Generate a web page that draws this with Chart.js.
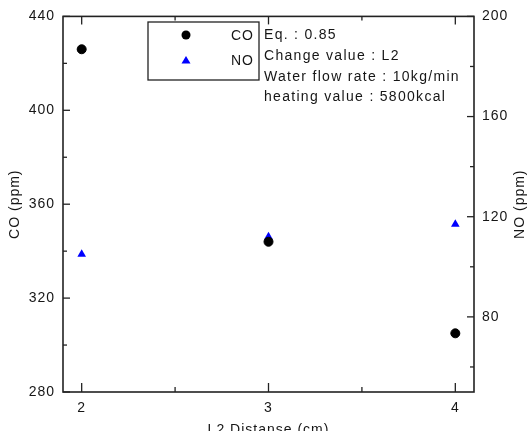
<!DOCTYPE html>
<html>
<head>
<meta charset="utf-8">
<script src="https://cdn.jsdelivr.net/npm/chart.js@4.4.1/dist/chart.umd.min.js"></script>
<style>
    html, body { margin: 0; padding: 0; background: #ffffff; }
    canvas { display: block; }
</style>
</head>
<body>
<canvas id="chart" width="532" height="431"></canvas>
<script>
/* data */
var distances = [2, 3, 4];
var coValues  = [426, 344, 305];
var noValues  = [105, 112, 117];

var xTicks  = [2, 3, 4];
var coTicks = [280, 320, 360, 400, 440];
var noTicks = [80, 120, 160, 200];

var notes = ['Eq. : 0.85', 'Change value : L2', 'Water flow rate : 10kg/min', 'heating value : 5800kcal'];

var FONT = { family: "'Liberation Sans', Arial, sans-serif", size: 14 };
var INK  = '#161616';
var AXIS = '#222222';

function points(ys) {
    return distances.map(function (x, i) { return { x: x, y: ys[i] }; });
}

function fixedTicks(list) {
    return function (scale) {
        scale.ticks = list.map(function (v) { return { value: v }; });
    };
}

function minorsOf(list, min) {
    var half = (list[1] - list[0]) / 2;
    return list.map(function (v) { return v - half; }).filter(function (v) { return v >= min; });
}

/* frame, inward ticks, titles, legend box and notes */
var decor = {
    id: 'decor',
    beforeDraw: function (chart) {
        chart.ctx.letterSpacing = '1px';
    },
    afterDraw: function (chart) {
        var ctx = chart.ctx, a = chart.chartArea, s = chart.scales;
        ctx.save();
        ctx.strokeStyle = AXIS;
        ctx.lineWidth = 1.6;
        ctx.strokeRect(a.left, a.top, a.right - a.left, a.bottom - a.top);

        ctx.lineWidth = 1.3;
        function tick(x1, y1, x2, y2) {
            ctx.beginPath(); ctx.moveTo(x1, y1); ctx.lineTo(x2, y2); ctx.stroke();
        }
        xTicks.forEach(function (v) {
            var px = s.x.getPixelForValue(v);
            tick(px, a.bottom, px, a.bottom - 9);
            tick(px, a.top, px, a.top + 8);
        });
        minorsOf(xTicks, s.x.min).forEach(function (v) {
            var px = s.x.getPixelForValue(v);
            tick(px, a.bottom, px, a.bottom - 5);
            tick(px, a.top, px, a.top + 4);
        });
        coTicks.forEach(function (v) {
            var py = s.y.getPixelForValue(v);
            tick(a.left, py, a.left + 7, py);
        });
        minorsOf(coTicks, s.y.min).forEach(function (v) {
            var py = s.y.getPixelForValue(v);
            tick(a.left, py, a.left + 4, py);
        });
        noTicks.forEach(function (v) {
            var py = s.y1.getPixelForValue(v);
            tick(a.right, py, a.right - 7, py);
        });
        minorsOf(noTicks, s.y1.min).forEach(function (v) {
            var py = s.y1.getPixelForValue(v);
            tick(a.right, py, a.right - 4, py);
        });

        /* axis titles */
        ctx.fillStyle = INK;
        ctx.font = FONT.size + 'px ' + FONT.family;
        ctx.textAlign = 'center';
        ctx.textBaseline = 'middle';
        var midY = (a.top + a.bottom) / 2;
        ctx.fillText('L2 Distanse (cm)', (a.left + a.right) / 2, 430);
        ctx.save();
        ctx.translate(15, midY);
        ctx.rotate(-Math.PI / 2);
        ctx.fillText('CO (ppm)', 0, 0);
        ctx.restore();
        ctx.save();
        ctx.translate(520, midY);
        ctx.rotate(-Math.PI / 2);
        ctx.fillText('NO (ppm)', 0, 0);
        ctx.restore();

        /* legend box */
        ctx.lineWidth = 1.3;
        ctx.strokeStyle = AXIS;
        ctx.strokeRect(148, 22, 111, 58);
        ctx.fillStyle = '#000000';
        ctx.beginPath();
        ctx.arc(186, 35, 4.5, 0, Math.PI * 2);
        ctx.fill();
        ctx.fillStyle = '#0000ff';
        ctx.beginPath();
        ctx.moveTo(186, 56);
        ctx.lineTo(190.5, 63.5);
        ctx.lineTo(181.5, 63.5);
        ctx.closePath();
        ctx.fill();
        ctx.fillStyle = INK;
        ctx.textAlign = 'right';
        ctx.fillText('CO', 254, 36);
        ctx.fillText('NO', 254, 61);

        /* condition notes */
        ctx.textAlign = 'left';
        ctx.letterSpacing = '1.3px';
        notes.forEach(function (t, i) {
            ctx.fillText(t, 264, 35.5 + i * 20.6);
        });
        ctx.restore();
    }
};

new Chart(document.getElementById('chart').getContext('2d'), {
    type: 'scatter',
    data: {
        datasets: [{
            label: 'CO',
            data: points(coValues),
            yAxisID: 'y',
            pointStyle: 'circle',
            pointRadius: 4.5,
            backgroundColor: '#000000',
            borderColor: '#000000',
            borderWidth: 1
        }, {
            label: 'NO',
            data: points(noValues),
            yAxisID: 'y1',
            pointStyle: 'triangle',
            pointRadius: 5,
            backgroundColor: '#0000ff',
            borderColor: '#0000ff',
            borderWidth: 0
        }]
    },
    options: {
        responsive: false,
        animation: false,
        layout: { padding: { top: 10, left: 0, right: 0, bottom: 0 } },
        plugins: {
            legend: { display: false },
            tooltip: { enabled: false }
        },
        scales: {
            x: {
                type: 'linear',
                position: 'bottom',
                min: 1.9,
                max: 4.1,
                afterBuildTicks: fixedTicks(xTicks),
                afterFit: function (scale) { scale.height = 39; },
                grid: { display: false, drawTicks: false },
                border: { display: false },
                ticks: { color: INK, font: FONT, padding: 8 }
            },
            y: {
                position: 'left',
                min: 280,
                max: 440,
                afterBuildTicks: fixedTicks(coTicks),
                afterFit: function (scale) { scale.width = 63; },
                grid: { display: false, drawTicks: false },
                border: { display: false },
                ticks: { color: INK, font: FONT, padding: 8 }
            },
            y1: {
                position: 'right',
                min: 50,
                max: 200,
                afterBuildTicks: fixedTicks(noTicks),
                afterFit: function (scale) { scale.width = 58; },
                grid: { display: false, drawTicks: false },
                border: { display: false },
                ticks: { color: INK, font: FONT, padding: 8 }
            }
        }
    },
    plugins: [decor]
});
</script>
</body>
</html>
